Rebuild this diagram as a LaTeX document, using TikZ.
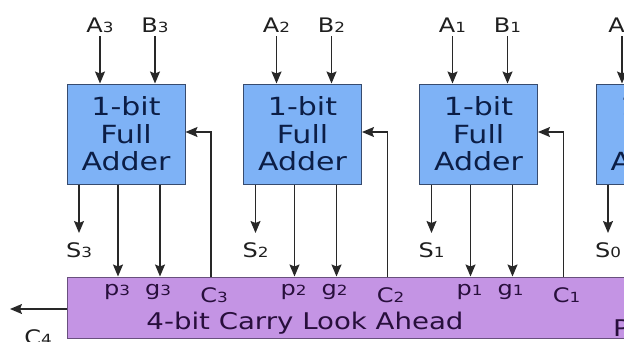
\documentclass[tikz,border=0pt]{standalone}
\usepackage{fontspec}
\setmainfont{DejaVu Sans}[FakeStretch=1.2]
\usetikzlibrary{arrows.meta}
\definecolor{fablue}{RGB}{126,178,246}
\definecolor{faborder}{RGB}{55,75,110}
\definecolor{fatext}{RGB}{12,30,70}
\definecolor{clapurple}{RGB}{196,148,228}
\definecolor{claborder}{RGB}{105,80,125}
\definecolor{clatext}{RGB}{40,15,60}
\definecolor{wire}{RGB}{40,40,40}
\newcommand{\lsub}[1]{{\fontsize{14}{14}\selectfont #1}}
\begin{document}
\begin{tikzpicture}[x=1pt,y=-1pt,
  fabox/.style={draw=faborder, line width=1pt, fill=fablue, minimum width=118pt, minimum height=100pt, inner sep=0pt, text=fatext, align=center, font=\fontsize{25}{27.5}\selectfont},
  clabox/.style={draw=claborder, line width=1pt, fill=clapurple, minimum width=633pt, minimum height=61pt, inner sep=0pt},
  lbl/.style={anchor=base, inner sep=0pt, font=\fontsize{20}{24}\selectfont, text=black!88},
  clalbl/.style={anchor=base, inner sep=0pt, font=\fontsize{20}{24}\selectfont, text=clatext},
  clatitle/.style={anchor=base, inner sep=0pt, font=\fontsize{23}{26}\selectfont, text=clatext},
  wirearr/.style={draw=wire, line width=1.3pt, -{Stealth[length=12pt,width=10pt,inset=2pt]}}]
\useasboundingbox (0,0) rectangle (624,341);
\clip (0,0) rectangle (624,341);
\node[clabox] (cla) at (383.5,307.5) {};
\node[clatitle] (title) at (305,329) {4-bit Carry Look Ahead};
\node[clatitle, anchor=base west] (ptext) at (613,336) {P};
\coordinate (c4tip) at (10,309);
\draw[wirearr] ([yshift=-1.5pt]cla.west) -- (c4tip);
\node[lbl] (c4) at (38,344) {C\lsub{4}};
\foreach \i/\cx/\ax in {3/126/26,2/302.5/26,1/478.5/26,0/655/33}{
  \node[fabox] (fa\i) at (\cx,134) {1-bit\\Full\\Adder};
  \node[lbl] (a\i) at (\cx-\ax,32) {A\lsub{\i}};
  \node[lbl] (b\i) at (\cx+29,32) {B\lsub{\i}};
  \draw[wirearr] ([yshift=-4pt]a\i.base) -- (a\i.base |- fa\i.north);
  \draw[wirearr] ([yshift=-4pt]b\i.base) -- (b\i.base |- fa\i.north);
  \node[lbl] (s\i) at (\cx-47,257) {S\lsub{\i}};
  \draw[wirearr] (s\i.base |- fa\i.south) -- ([yshift=24pt]s\i.base);
  \draw[wirearr] ([xshift=-8pt]fa\i.south) -- ([xshift=-8pt]fa\i.south |- cla.north);
  \draw[wirearr] ([xshift=34pt]fa\i.south) -- ([xshift=34pt]fa\i.south |- cla.north);
  \node[clalbl] (p\i) at (\cx-9,295) {p\lsub{\i}};
  \node[clalbl] (g\i) at (\cx+32,295) {g\lsub{\i}};
  \node[clalbl] (c\i) at (\cx+88,302) {C\lsub{\i}};
  \draw[wirearr] ([xshift=85pt]fa\i.south |- cla.north) |- ([yshift=2pt]fa\i.east);
}
\end{tikzpicture}
\end{document}
